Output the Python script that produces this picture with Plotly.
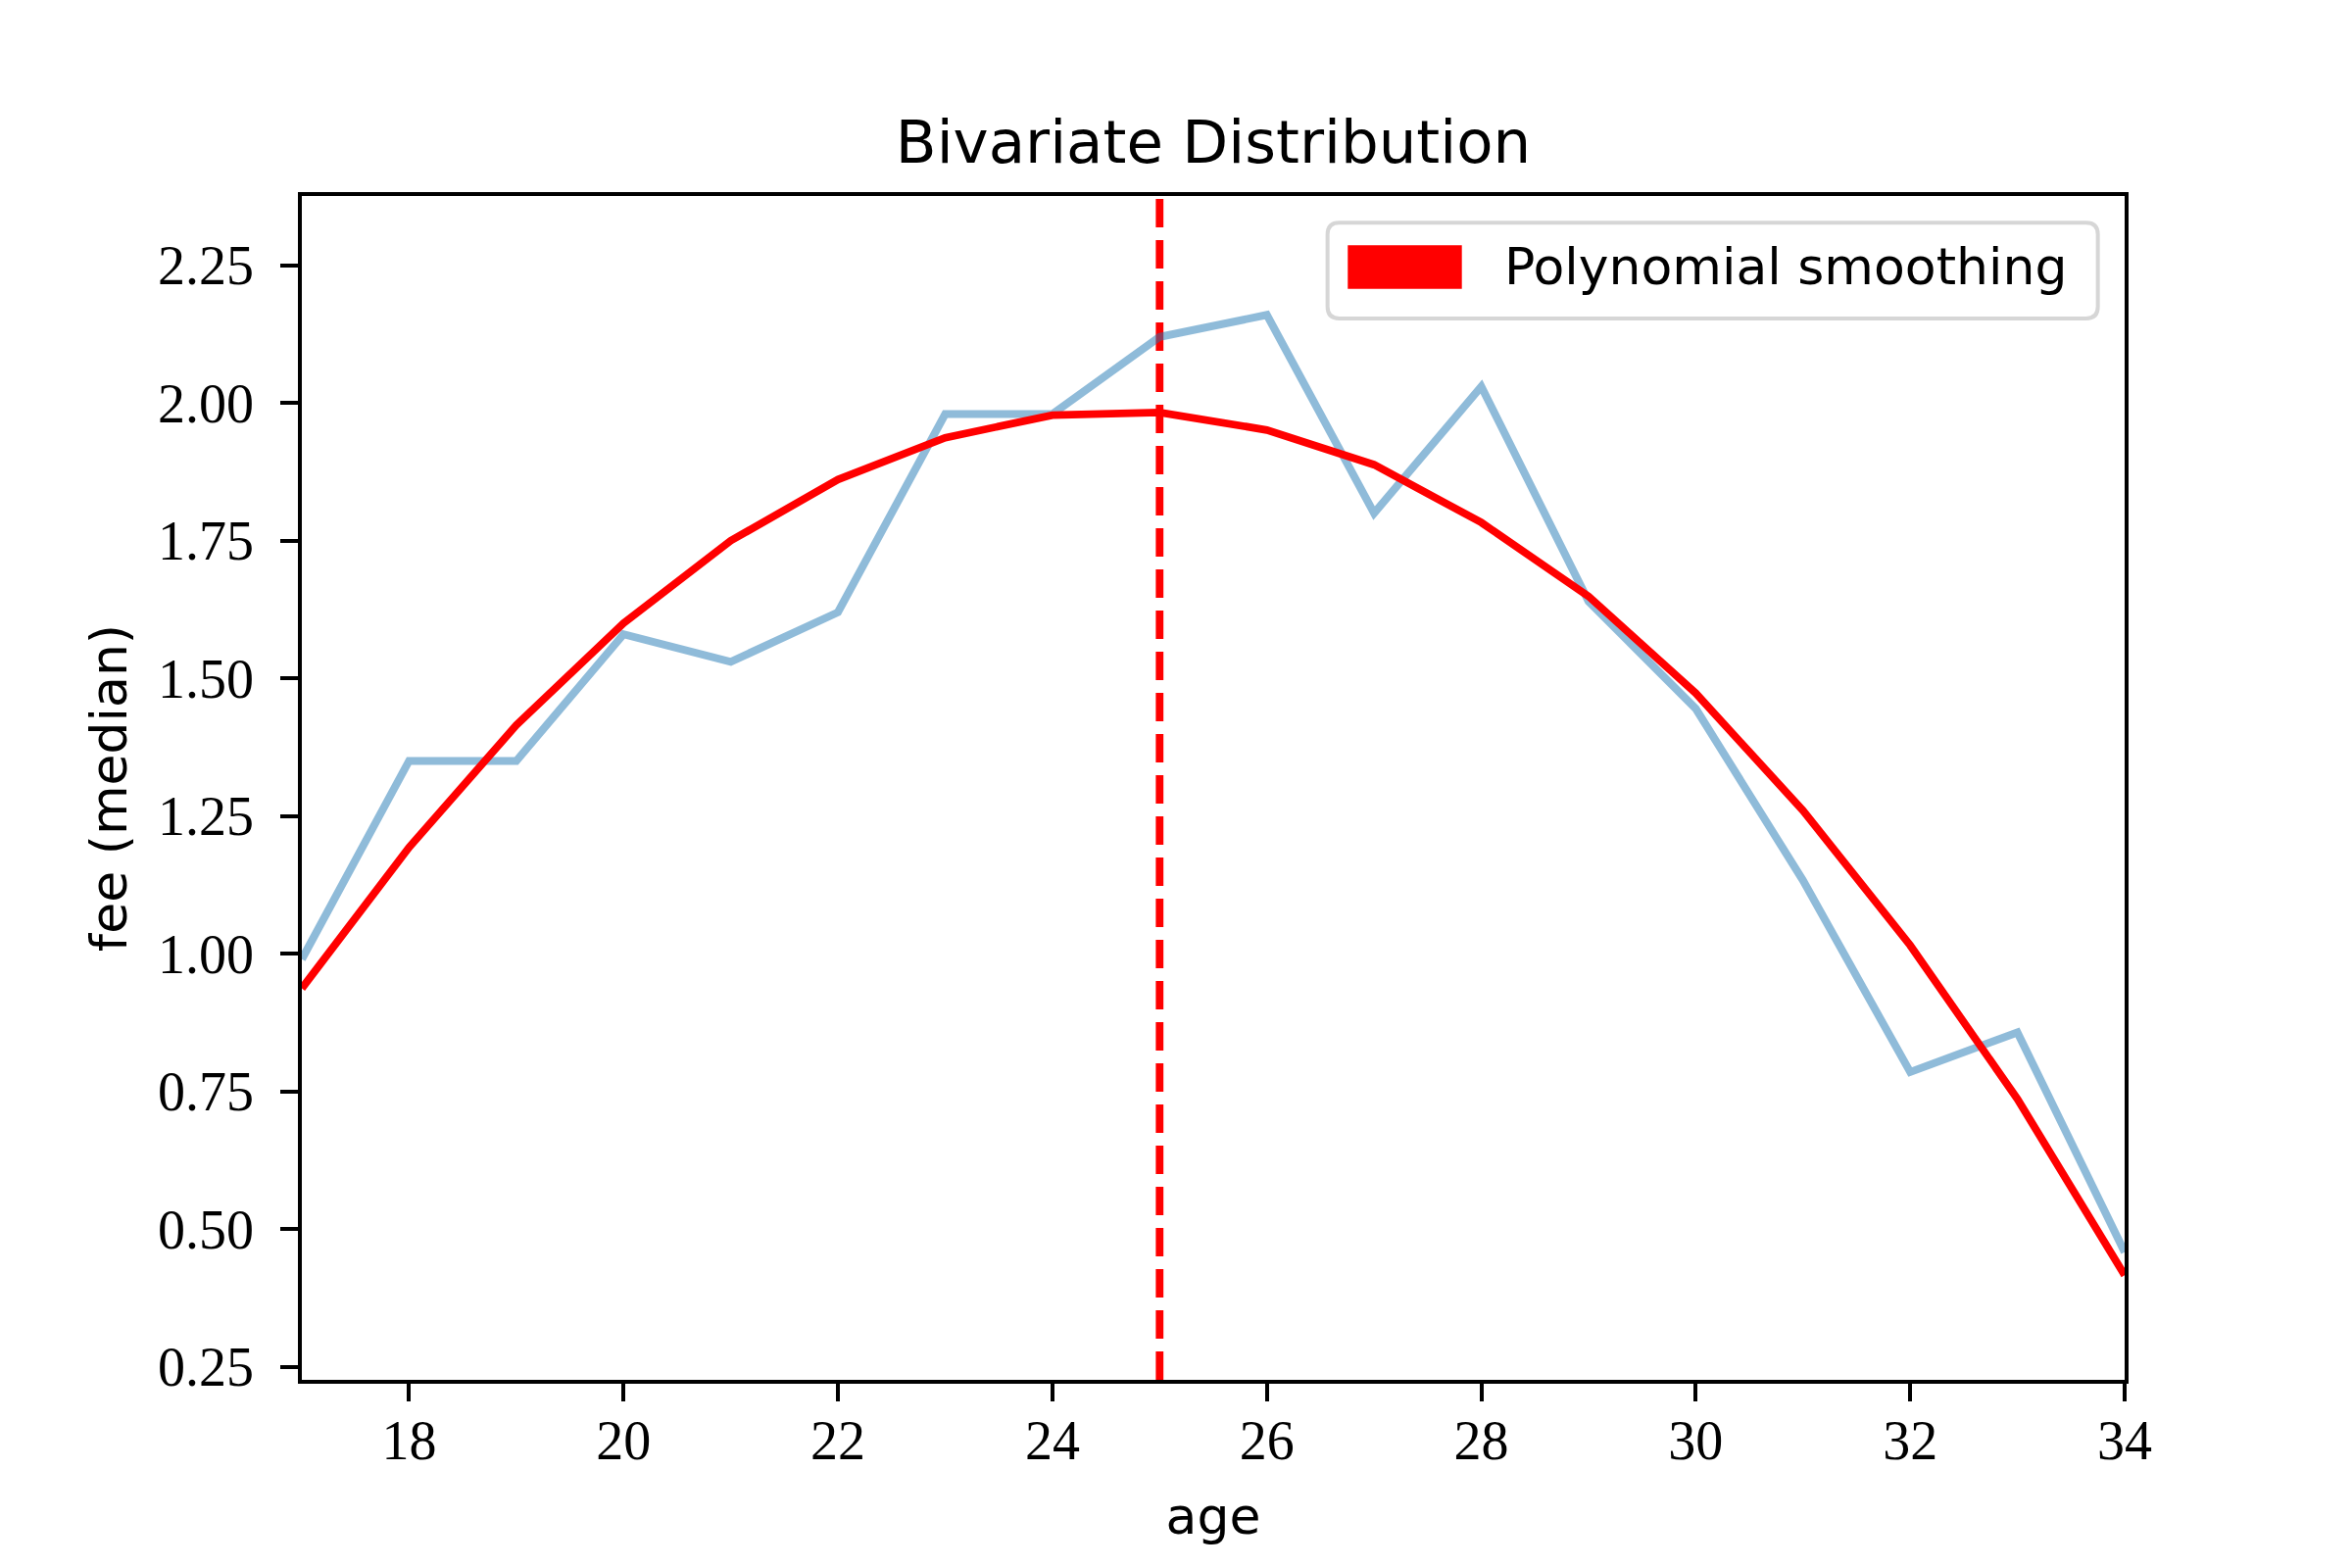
import plotly.graph_objects as go

# median fee per age, and the polynomial smoothing of it
ages = list(range(17, 35))
fee_median = [0.99, 1.35, 1.35, 1.58, 1.53, 1.62, 1.98, 1.98, 2.12,
              2.16, 1.80, 2.03, 1.64, 1.445, 1.133, 0.785, 0.857, 0.458]
fee_smooth = [0.937, 1.193, 1.415, 1.600, 1.750, 1.861, 1.937, 1.978, 1.983,
              1.951, 1.888, 1.783, 1.649, 1.473, 1.260, 1.015, 0.736, 0.416]
peak_age = 25
legend_label = "Polynomial smoothing"

x_ticks = list(range(18, 35, 2))
y_ticks = [0.25, 0.50, 0.75, 1.00, 1.25, 1.50, 1.75, 2.00, 2.25]

sans = "DejaVu Sans"
serif = "Liberation Serif"
W, H = 2400, 1600

fig = go.Figure()

fig.add_trace(go.Scatter(x=ages, y=fee_median, mode="lines",
                         line=dict(color="rgba(31,119,180,0.5)", width=8),
                         showlegend=False))
fig.add_trace(go.Scatter(x=ages, y=fee_smooth, mode="lines",
                         line=dict(color="#ff0000", width=7.8),
                         showlegend=False))

# vertical line at the peak
fig.add_vline(x=peak_age, line=dict(color="#ff0000", width=7.8, dash="29px,13px"),
              layer="below")

# legend drawn by hand: grey rounded frame, red patch, label
def rounded_box(x0, y0, x1, y1, rx, ry):
    return (f"M{x0+rx},{y0} L{x1-rx},{y0} Q{x1},{y0} {x1},{y0+ry} "
            f"L{x1},{y1-ry} Q{x1},{y1} {x1-rx},{y1} L{x0+rx},{y1} "
            f"Q{x0},{y1} {x0},{y1-ry} L{x0},{y0+ry} Q{x0},{y0} {x0+rx},{y0} Z")

fig.add_shape(type="path", xref="paper", yref="paper",
              path=rounded_box(0.5627, 0.8965, 0.9853, 0.9774, 0.0065, 0.0099),
              fillcolor="rgba(255,255,255,0.8)", line=dict(color="#d6d6d6", width=4))
fig.add_shape(type="rect", xref="paper", yref="paper",
              x0=0.5738, x1=0.6364, y0=0.9216, y1=0.9583,
              fillcolor="#ff0000", line=dict(width=0))
fig.add_annotation(xref="paper", yref="paper", x=0.6586, y=0.9400,
                   xanchor="left", yanchor="middle", showarrow=False,
                   text=legend_label, font=dict(family=sans, size=52, color="black"))

fig.update_layout(
    width=W, height=H, autosize=False,
    margin=dict(l=300, r=240, t=192, b=200),
    plot_bgcolor="white", paper_bgcolor="white",
    title=dict(text="Bivariate Distribution", x=0.5, xref="paper", xanchor="center",
               yref="container", y=1 - 137 / H, yanchor="middle",
               font=dict(family=sans, size=61, color="black")),
    showlegend=False,
)

fig.update_xaxes(range=[17, 34], tickvals=x_ticks, ticktext=[str(v) for v in x_ticks],
                 showgrid=False, zeroline=False, showline=True, mirror=True,
                 linecolor="black", linewidth=3.5, ticks="outside", ticklen=18,
                 tickwidth=3.5, tickcolor="black", ticklabelstandoff=-8,
                 tickfont=dict(family=serif, size=56, color="black"),
                 title=dict(text="age", standoff=30,
                            font=dict(family=sans, size=52, color="black")))
fig.update_yaxes(range=[0.226, 2.376], tickvals=y_ticks,
                 ticktext=[f"{v:.2f}" for v in y_ticks],
                 showgrid=False, zeroline=False, showline=True, mirror=True,
                 linecolor="black", linewidth=3.5, ticks="outside", ticklen=18,
                 tickwidth=3.5, tickcolor="black", ticklabelstandoff=16,
                 tickfont=dict(family=serif, size=56, color="black"),
                 title=dict(text="fee (median)", standoff=16,
                            font=dict(family=sans, size=52, color="black")))

fig.write_html("out.html")
